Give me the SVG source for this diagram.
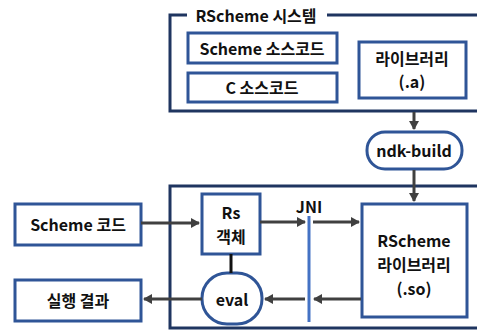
<svg xmlns="http://www.w3.org/2000/svg" width="477" height="331" viewBox="0 0 477 331">
<defs>
<marker id="ah" markerWidth="10" markerHeight="10" refX="8" refY="5" orient="auto" markerUnits="userSpaceOnUse">
<path d="M0,0 L9,5 L0,10 Z" fill="#404040"/>
</marker>
<style>
.frame{fill:none;stroke:#1F3560;stroke-width:3}
.node{fill:#fff;stroke:#2F5597;stroke-width:3}
.t{font-family:"Noto Sans CJK KR","Noto Sans",sans-serif;font-weight:bold;font-size:16px;fill:#111;text-anchor:middle;dominant-baseline:central}
.arr{stroke:#404040;stroke-width:3;fill:none;marker-end:url(#ah)}
</style>
</defs>
<rect width="477" height="331" fill="#fff"/>
<g id="system">
<path class="frame" d="M187,15 H170 V111 H480 M327,15 H480"/>
<text class="t" x="256" y="15" font-size="17">RScheme 시스템</text>
</g>
<g id="runtime">
<rect class="frame" x="170" y="186" width="320" height="142"/>
</g>
<g id="scheme-src"><rect class="node" x="188" y="33" width="149" height="30"/><text class="t" x="262" y="48">Scheme 소스코드</text></g>
<g id="c-src"><rect class="node" x="188" y="73" width="149" height="29"/><text class="t" x="262" y="87">C 소스코드</text></g>
<g id="lib-a"><rect class="node" x="359" y="42" width="107" height="56"/><text class="t" x="412" y="58">라이브러리</text><text class="t" x="412" y="81">(.a)</text></g>
<g id="ndk"><rect class="node" x="367" y="132" width="95" height="37" rx="18"/><text class="t" x="414" y="150">ndk-build</text></g>
<g id="scheme-code"><rect class="node" x="15" y="204" width="126" height="41"/><text class="t" x="78" y="224">Scheme 코드</text></g>
<g id="result"><rect class="node" x="15" y="280" width="126" height="41"/><text class="t" x="78" y="300">실행 결과</text></g>
<g id="rs"><rect class="node" x="202" y="194" width="58" height="60"/><text class="t" x="231" y="212">Rs</text><text class="t" x="231" y="236">객체</text></g>
<g id="eval"><rect class="node" x="202" y="273" width="60" height="51" rx="25"/><text class="t" x="232" y="299">eval</text></g>
<g id="so"><rect class="node" x="362" y="204" width="105" height="113"/><text class="t" x="414" y="240">RScheme</text><text class="t" x="414" y="264">라이브러리</text><text class="t" x="414" y="288">(.so)</text></g>
<g id="jni"><line x1="309" y1="216" x2="309" y2="322" stroke="#4472C4" stroke-width="3"/><text class="t" x="309" y="206">JNI</text></g>
<g id="connectors">
<line class="arr" x1="414" y1="112" x2="414" y2="129"/>
<line class="arr" x1="414" y1="170" x2="414" y2="201"/>
<line class="arr" x1="141" y1="223" x2="199" y2="223"/>
<line class="arr" x1="260" y1="222" x2="305" y2="222"/>
<line class="arr" x1="313" y1="222" x2="359" y2="222"/>
<line class="arr" x1="361" y1="299" x2="314" y2="299"/>
<line class="arr" x1="305" y1="299" x2="265" y2="299"/>
<line class="arr" x1="202" y1="299" x2="144" y2="299"/>
<line x1="231" y1="254" x2="231" y2="273" stroke="#111" stroke-width="3"/>
</g>
</svg>
